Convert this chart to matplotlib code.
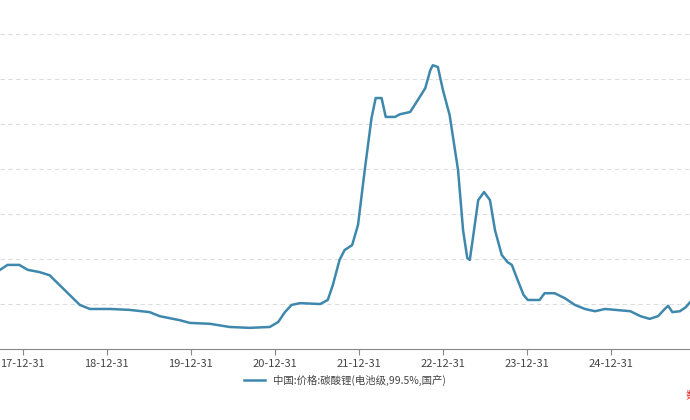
import matplotlib
matplotlib.use("Agg")
import matplotlib.pyplot as plt

plt.rcParams['font.family'] = ['Noto Sans CJK SC', 'DejaVu Sans']

years = [2017.73, 2017.82, 2017.96, 2018.06, 2018.20, 2018.32, 2018.44, 2018.56, 2018.68, 2018.80,
         2019.04, 2019.27, 2019.51, 2019.63, 2019.87, 2019.99, 2020.23, 2020.46, 2020.70, 2020.94,
         2021.04, 2021.12, 2021.20, 2021.30, 2021.54, 2021.63, 2021.69, 2021.77, 2021.83, 2021.92,
         2021.99, 2022.07, 2022.15, 2022.20, 2022.27, 2022.32, 2022.43, 2022.49, 2022.61, 2022.70,
         2022.79, 2022.85, 2022.88, 2022.94, 2023.00, 2023.08, 2023.18, 2023.24, 2023.29, 2023.32,
         2023.37, 2023.42, 2023.49, 2023.56, 2023.62, 2023.70, 2023.77, 2023.82, 2023.89, 2023.96,
         2024.01, 2024.15, 2024.21, 2024.33, 2024.45, 2024.57, 2024.69, 2024.81, 2024.93, 2025.05,
         2025.23, 2025.35, 2025.46, 2025.56, 2025.64, 2025.68, 2025.73, 2025.82, 2025.89, 2025.94]
price = [17.6, 18.7, 18.7, 17.6, 17.1, 16.4, 14.2, 12.0, 9.8, 8.9,
         8.9, 8.7, 8.2, 7.3, 6.4, 5.8, 5.6, 4.9, 4.7, 4.9,
         6.0, 8.2, 9.8, 10.2, 10.0, 10.9, 14.2, 19.8, 22.0, 23.1,
         27.6, 39.8, 51.3, 55.8, 55.8, 51.6, 51.6, 52.2, 52.7, 55.3,
         58.0, 62.0, 63.1, 62.7, 57.6, 52.0, 39.8, 26.4, 20.2, 19.8,
         26.4, 33.1, 34.9, 33.1, 26.4, 20.9, 19.3, 18.7, 15.3, 12.0,
         10.9, 10.9, 12.4, 12.4, 11.3, 9.8, 8.9, 8.4, 8.9, 8.7,
         8.4, 7.3, 6.7, 7.3, 8.9, 9.6, 8.2, 8.4, 9.3, 10.4]
tick_pos = [2018, 2019, 2020, 2021, 2022, 2023, 2024, 2025]
tick_labels = ['17-12-31', '18-12-31', '19-12-31', '20-12-31', '21-12-31', '22-12-31', '23-12-31', '24-12-31']
series_name = '中国:价格:碳酸锂(电池级,99.5%,国产)'

fig = plt.figure(figsize=(6.9, 4.2), dpi=100)
ax = fig.add_axes([0, 71/420, 1, 349/420])
ax.plot(years, price, color='#3f88ad', lw=1.8, label=series_name)
ax.set_xlim(2017.73, 2025.94)
ax.set_ylim(0, 77.6)
ax.set_yticks([10, 20, 30, 40, 50, 60, 70])
ax.tick_params(axis='y', left=False, labelleft=False)
ax.grid(axis='y', ls=(0, (4, 3)), color='#dddddd', lw=0.8)
ax.set_xticks(tick_pos)
ax.set_xticklabels(tick_labels, fontsize=8, color='#444444')
ax.tick_params(axis='x', length=4, color='#888888')
for s in ['top', 'left', 'right']:
    ax.spines[s].set_visible(False)
ax.spines['bottom'].set_color('#888888')
fig.legend(loc='center', bbox_to_anchor=(0.5, 40/420), frameon=False, fontsize=7.5,
           handlelength=2, labelcolor='#444444')
fig.text(0.994, 25/420, '数', color='#e03030', fontsize=8, ha='left', va='center')
fig.savefig('out.png')
